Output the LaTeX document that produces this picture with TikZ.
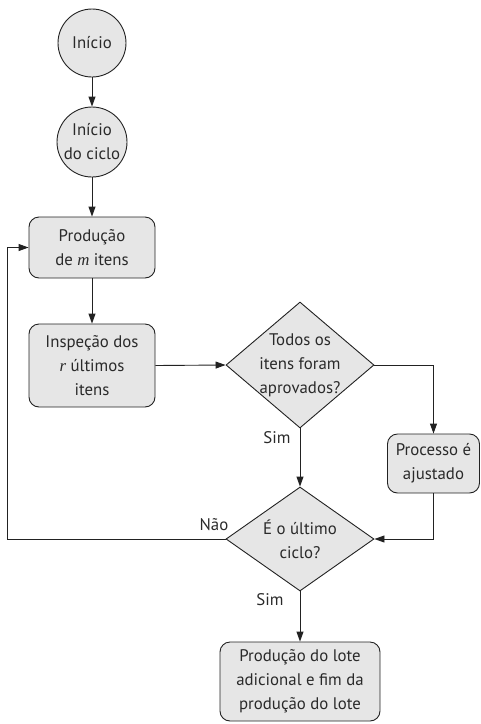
\documentclass[tikz,border=0pt]{standalone}
\usepackage{fontspec}
\setmainfont{PT Sans}
\newfontfamily\varfont{Liberation Serif}
\newcommand{\varit}[1]{{\varfont\itshape #1}}
\usetikzlibrary{shapes.geometric,arrows.meta,calc}
\definecolor{boxfill}{HTML}{E6E6E6}
\definecolor{linec}{HTML}{222222}
\definecolor{textc}{HTML}{2A2A2A}
\begin{document}
\begin{tikzpicture}[x=1pt,y=1pt,
  every node/.style={font=\fontsize{16.8}{24}\selectfont, text=textc},
  basic/.style={draw=linec, line width=0.9pt, fill=boxfill},
  circ/.style={basic, circle, inner sep=0pt},
  rbox/.style={basic, rectangle, rounded corners=10pt, inner sep=0pt, align=center},
  dia/.style={basic, diamond, inner sep=0pt},
  conn/.style={draw=linec, line width=0.9pt, -{Triangle[length=10pt,width=7pt]}},
  lbl/.style={inner sep=0pt}
]
\useasboundingbox (0,0) rectangle (481,-724);
\node[circ, minimum size=68pt] (c1) at (92,-43) {Início};
\node[circ, minimum size=70pt, align=center] (c2) at (92,-142) {Início\\do ciclo};
\node[rbox, minimum width=126pt, minimum height=61pt] (b1) at (92,-247.5) {Produção\\de \varit{m} itens};
\node[rbox, minimum width=126pt, minimum height=83pt] (b2) at (92,-365.5) {Inspeção dos\\\varit{r} últimos\\itens};
\node[dia, minimum width=148pt, minimum height=126pt] (d1) at (300,-365) {};
\node[align=center, lbl] (d1t) at (d1.center) {Todos os\\itens foram\\aprovados?};
\node[rbox, minimum width=92pt, minimum height=59pt] (p) at (433.5,-463.5) {Processo é\\ajustado};
\node[dia, minimum width=148pt, minimum height=104pt] (d2) at (300,-539) {};
\node[align=center, lbl] (d2t) at (d2.center) {É o último\\ciclo?};
\node[rbox, minimum width=160pt, minimum height=79pt] (f) at (300,-681.5) {Produção do lote\\adicional e fim da\\produção do lote};
\node[lbl] (s1) at (277,-438) {Sim};
\node[lbl] (n2) at (214,-525) {Não};
\node[lbl] (s2) at (270,-600) {Sim};
\coordinate (lp) at (7.5,-539);
\draw[conn] (c1) -- (c2);
\draw[conn] (c2) -- (b1);
\draw[conn] (b1) -- (b2);
\draw[conn] (b2.east) -- (d1.west);
\draw[conn] (d1.east) -| (p.north);
\draw[conn] (d1.south) -- (d2.north);
\draw[conn] (p.south) |- (d2.east);
\draw[conn] (d2.west) -- (lp) |- (b1.west);
\draw[conn] (d2.south) -- (f.north);
\end{tikzpicture}
\end{document}
